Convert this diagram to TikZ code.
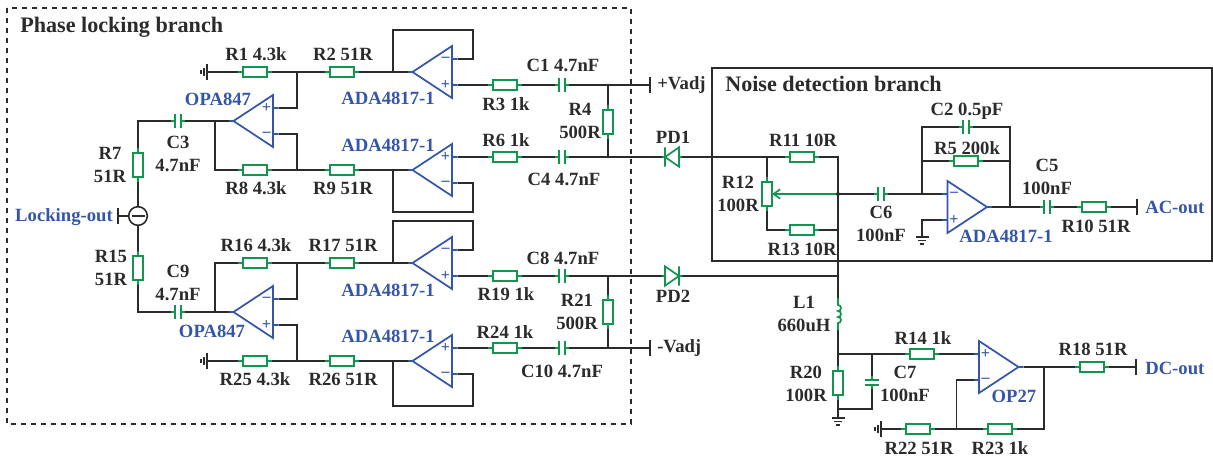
\documentclass[tikz,border=0pt]{standalone}
\usepackage{fontspec}
\usetikzlibrary{arrows.meta}
\setmainfont{Liberation Serif}
\definecolor{wirec}{HTML}{2B2B2B}
\definecolor{partc}{HTML}{12964F}
\definecolor{ampc}{HTML}{3556A8}
\tikzset{
    wire/.style={wirec, line width=1.2pt},
    lead/.style={partc, line width=1.3pt},
    rh/.style={draw=partc, line width=1.3pt, rectangle, inner sep=0pt, outer sep=0pt, minimum width=18pt, minimum height=7.5pt},
    rv/.style={draw=partc, line width=1.3pt, rectangle, inner sep=0pt, outer sep=0pt, minimum width=7.5pt, minimum height=18pt},
    caph/.style={rectangle, inner sep=0pt, outer sep=0pt, minimum width=4pt, minimum height=10pt},
    capv/.style={rectangle, inner sep=0pt, outer sep=0pt, minimum width=10pt, minimum height=4pt},
    diode/.style={rectangle, inner sep=0pt, outer sep=0pt, minimum width=10.5pt, minimum height=14.5pt},
    lab/.style={wirec, align=center, inner sep=0pt, font=\fontsize{14}{17}\selectfont\bfseries},
    blab/.style={lab, ampc},
    title/.style={lab, anchor=west, font=\fontsize{16.6}{20}\selectfont\bfseries},
    pics/amp/.style n args={3}{code={
        \draw[ampc, line width=1.3pt, xscale=#1, line join=miter] (-19.5,-26) -- (-19.5,26) -- (20,0) -- cycle
            (-19.5,-13) -- (-25,-13) (-19.5,13) -- (-25,13) (20,0) -- (25,0);
        \node[ampc, inner sep=0pt, font=\fontsize{12}{12}\selectfont\bfseries] (-s1) at (-13*#1,-13) {#2};
        \node[ampc, inner sep=0pt, font=\fontsize{12}{12}\selectfont\bfseries] (-s2) at (-13*#1,13) {#3};
        \coordinate (-a) at (-25*#1,-13);
        \coordinate (-b) at (-25*#1,13);
        \coordinate (-out) at (25*#1,0);
    }}
}
\begin{document}
\begin{tikzpicture}[x=.75pt,y=-.75pt]
    \useasboundingbox (0,0) rectangle (1213,458);
    % frames
    \coordinate (d1) at (7,8);
    \coordinate (d2) at (631,424);
    \coordinate (b1) at (712,68);
    \coordinate (b2) at (1212,261);
    \draw[wirec, line width=1.2pt, dash pattern=on 4pt off 3.5pt] (d1) rectangle (d2);
    \draw[wirec, line width=1.2pt] (b1) rectangle (b2);

    % amplifiers
    \pic (u1) at (253.5,121) {amp={-1}{+}{--}};
    \pic (u2) at (253.5,312) {amp={-1}{--}{+}};
    \pic (u5) at (432.5,72) {amp={-1}{--}{+}};
    \pic (u6) at (432.5,170) {amp={-1}{+}{--}};
    \pic (u7) at (432.5,263) {amp={-1}{--}{+}};
    \pic (u8) at (432.5,361) {amp={-1}{+}{--}};
    \pic (u9) at (967,207) {amp={1}{--}{+}};
    \pic (u10) at (998.5,367) {amp={1}{+}{--}};

    % resistors
    \foreach \n/\x/\y in {r1/255/72,r2/342/72,r8/255/170,r9/342/170,r16/255/263,r17/342/263,r25/255/361,r26/342/361,
        r3/505/85,r6/505/157,r19/505/276,r24/505/348,r11/802/157,r13/802/230,r5/966/161,r10/1094/207,
        r14/922/354,r18/1092/367,r22/918/429,r23/1000/429}{
        \node[rh] (\n) at (\x,\y) {};
    };
    \foreach \n/\x/\y in {r7/138/165,r15/138/268,r4/608/122,r21/608/312,r12/767/194,r20/838/383}{
        \node[rv] (\n) at (\x,\y) {};
    };
    % capacitors
    \foreach \n/\x/\y in {c3/178/121,c9/178/312,c1/562/85,c4/562/157,c8/562/276,c10/562/348,c6/881/194,c2/966/127,c5/1047/207}{
        \node[caph] (\n) at (\x,\y) {};
    };
    \node[capv] (c7) at (872,382.5) {};
    \node[diode] (pd1) at (672,157) {};
    \node[diode] (pd2) at (672,276) {};
    \node[rectangle, inner sep=0pt, outer sep=0pt, minimum width=6pt, minimum height=24pt] (l1) at (838,314) {};
    \node[draw=wirec, line width=1.2pt, circle, inner sep=0pt, outer sep=0pt, minimum size=14pt] (sub) at (138,216) {};

    % grounds, terminals, joints
    \foreach \n/\x/\y in {gl1/207/72,gl2/207/361,gl3/881/429,gd1/922/237,gd2/838/418,
        v1/650/85,v2/650/348,v3/1137/207,v4/1136/367,v5/118/216,
        n1/297/72,n2/297/170,n3/608/85,n4/608/157,n5/767/157,n6/838/157,n7/767/230,n8/838/230,n9/838/276,
        n10/838/194,n11/838/354,n12/838/409,n13/922/194,n14/922/127,n15/1010/127,n16/1010/207,n17/922/161,n18/1010/161,
        n19/872/354,n20/872/409,n21/1044/367,n22/1044/429,n23/956.5/429,n24/215/121,n25/215/312,n26/297/263,n27/297/361,
        n28/608/276,n29/608/348,f1/393/72,f2/393/170,f3/393/263,f4/393/361}{
        \coordinate (\n) at (\x,\y);
    };

    % wires
    \draw[wire] (gl1) -- (r1) -- (r2) -- (f1) -- (u5-out);
    \draw[wire] (u1-a) -| (n1);
    \draw[wire] (u1-b) -| (n2);
    \draw[wire] (n24) |- (r8) -- (r9) -- (f2) -- (u6-out);
    \draw[wire] (sub) -- (r7) |- (c3) -- (u1-out);
    \draw[wire] (sub) -- (v5);
    \draw[wire] (sub) -- (r15) |- (c9) -- (u2-out);
    \draw[wire] (n25) |- (r16) -- (r17) -- (f3) -- (u7-out);
    \draw[wire] (u2-a) -| (n26);
    \draw[wire] (u2-b) -| (n27);
    \draw[wire] (gl2) -- (r25) -- (r26) -- (f4) -- (u8-out);
    \foreach \u/\f/\p/\h in {u5/f1/a/-42,u6/f2/b/42,u7/f3/a/-42,u8/f4/b/45}{
        \draw[wire] (\f) -- ++(0,\h) -- ++(80,0) |- (\u-\p);
    };
    \draw[wire] (u5-b) -- (r3) -- (c1) -- (v1);
    \draw[wire] (u6-a) -- (r6) -- (c4) -- (pd1) -- (n5);
    \draw[wire] (u7-b) -- (r19) -- (c8) -- (pd2) -- (n9);
    \draw[wire] (u8-a) -- (r24) -- (c10) -- (v2);
    \draw[wire] (n3) -- (r4) -- (n4);
    \draw[wire] (n28) -- (r21) -- (n29);
    \draw[wire] (n5) -- (r11) -- (n6) -- (n9) -- (l1) -- (n11) -- (r20) -- (n12) -- (gd2);
    \draw[wire] (n5) -- (r12) -- (n7) -- (r13) -- (n8);
    \draw[wire] (n10) -- (c6) -- (u9-a);
    \draw[wire] (n13) -- (n14) -- (c2) -- (n15) -- (n16);
    \draw[wire] (n17) -- (r5) -- (n18);
    \draw[wire] (u9-out) -- (c5) -- (r10) -- (v3);
    \draw[wire] (u9-b) -| (gd1);
    \draw[wire] (n11) -- (r14) -- (u10-a);
    \draw[wire] (n19) -- (c7) -- (n20) -- (n12);
    \draw[wire] (u10-out) -- (r18) -- (v4);
    \draw[wire] (n21) -- (n22) -- (r23) -- (r22) -- (gl3);
    \draw[wire] (n23) |- (u10-b);

    % component leads
    \foreach \n in {r1,r2,r8,r9,r16,r17,r25,r26,r3,r6,r19,r24,r11,r13,r5,r10,r14,r18,r22,r23}{
        \draw[lead] (\n.west) -- +(-5,0) (\n.east) -- +(5,0);
    };
    \foreach \n in {r7,r15,r4,r21,r12,r20}{
        \draw[lead] (\n.north) -- +(0,-5) (\n.south) -- +(0,5);
    };
    \foreach \n in {c3,c9,c1,c4,c8,c10,c6,c2,c5}{
        \draw[lead] (\n.north west) -- (\n.south west) (\n.north east) -- (\n.south east)
            (\n.west) -- +(-4,0) (\n.east) -- +(4,0);
    };
    \draw[lead] (c7.north west) -- (c7.north east) (c7.south west) -- (c7.south east)
        (c7.north) -- +(0,-4) (c7.south) -- +(0,4);
    \draw[lead] (pd1.west) -- (pd1.north east) -- (pd1.south east) -- cycle
        (pd1.north west) -- (pd1.south west) (pd1.west) -- +(-3,0) (pd1.east) -- +(3,0);
    \draw[lead] (pd2.east) -- (pd2.north west) -- (pd2.south west) -- cycle
        (pd2.north east) -- (pd2.south east) (pd2.west) -- +(-3,0) (pd2.east) -- +(3,0);
    \draw[lead] (l1.north) -- ++(0,7) arc (-90:90:3) arc (-90:90:3) arc (-90:90:3) -- (l1.south);
    \draw[lead, -{Straight Barb[length=5pt,width=7pt]}] (n10) -- (r12.east);
    \fill[wirec] (n10) circle (2);

    % grounds and terminals
    \draw[wire] (sub.west) ++(3,0) -- ++(13,0);
    \foreach \g in {gl1,gl2,gl3}{
        \draw[wire] (\g) +(0,-8) -- +(0,8) +(-3,-4) -- +(-3,4) +(-6,-2) -- +(-6,2);
    };
    \foreach \g in {gd1,gd2}{
        \draw[wire] (\g) +(-6.5,0) -- +(6.5,0) +(-4,3.5) -- +(4,3.5) +(-2,7) -- +(2,7);
    };
    \foreach \v in {v1,v2,v3,v4,v5}{
        \draw[wire] (\v) +(0,-8) -- +(0,8);
    };

    % texts
    \node[title] (t1) at (20,27) {Phase locking branch};
    \node[title] (t2) at (725,84) {Noise detection branch};
    \node[lab] (lr1) at (256,54) {R1 4.3k};
    \node[lab] (lr2) at (343,54) {R2 51R};
    \node[lab] (lr8) at (256,188) {R8 4.3k};
    \node[lab] (lr9) at (343,188) {R9 51R};
    \node[lab] (lr16) at (256,245) {R16 4.3k};
    \node[lab] (lr17) at (343,245) {R17 51R};
    \node[lab] (lr25) at (255,379) {R25 4.3k};
    \node[lab] (lr26) at (343,379) {R26 51R};
    \node[lab] (lr7) at (110,165) {R7\\51R};
    \node[lab] (lr15) at (111,268) {R15\\51R};
    \node[lab] (lc3) at (178,154) {C3\\4.7nF};
    \node[lab] (lc9) at (178,283) {C9\\4.7nF};
    \node[lab] (lc1) at (563,65) {C1 4.7nF};
    \node[lab] (lr3) at (506,104) {R3 1k};
    \node[lab] (lr4) at (580,121) {R4\\500R};
    \node[lab] (lr6) at (506,140) {R6 1k};
    \node[lab] (lc4) at (564,179) {C4 4.7nF};
    \node[lab] (lc8) at (563,258) {C8 4.7nF};
    \node[lab] (lr19) at (506,294) {R19 1k};
    \node[lab] (lr21) at (577,312) {R21\\500R};
    \node[lab] (lr24) at (505,332) {R24 1k};
    \node[lab] (lc10) at (562,371) {C10 4.7nF};
    \node[lab] (lpd1) at (673,137) {PD1};
    \node[lab] (lpd2) at (673,296) {PD2};
    \node[lab, anchor=west] (lv1) at (657,85) {+Vadj};
    \node[lab, anchor=west] (lv2) at (657,348) {-Vadj};
    \node[lab] (lc2) at (967,111) {C2 0.5pF};
    \node[lab] (lr11) at (803,140) {R11 10R};
    \node[lab] (lr5) at (967,148) {R5 200k};
    \node[lab] (lr12) at (738,194) {R12\\100R};
    \node[lab] (lc6) at (881,224) {C6\\100nF};
    \node[lab] (lr13) at (802,249) {R13 10R};
    \node[lab] (lc5) at (1047,177) {C5\\100nF};
    \node[lab] (lr10) at (1096,226) {R10 51R};
    \node[lab] (ll1) at (804,314) {L1\\660uH};
    \node[lab] (lr14) at (923,338) {R14 1k};
    \node[lab] (lr20) at (806,384) {R20\\100R};
    \node[lab] (lc7) at (905,384) {C7\\100nF};
    \node[lab] (lr18) at (1093,349) {R18 51R};
    \node[lab] (lr22) at (919,448) {R22 51R};
    \node[lab] (lr23) at (1000,448) {R23 1k};
    \node[blab] (lu1) at (218,99) {OPA847};
    \node[blab] (lu2) at (212,331) {OPA847};
    \node[blab] (lu5) at (388,98) {ADA4817-1};
    \node[blab] (lu6) at (388,145) {ADA4817-1};
    \node[blab] (lu7) at (388,290) {ADA4817-1};
    \node[blab] (lu8) at (388,336) {ADA4817-1};
    \node[blab] (lu9) at (1006,236) {ADA4817-1};
    \node[blab] (lu10) at (1014,396) {OP27};
    \node[blab, anchor=east] (lout1) at (113,217) {Locking-out};
    \node[blab, anchor=west] (lout2) at (1145,207) {AC-out};
    \node[blab, anchor=west] (lout3) at (1145,368) {DC-out};
\end{tikzpicture}
\end{document}
